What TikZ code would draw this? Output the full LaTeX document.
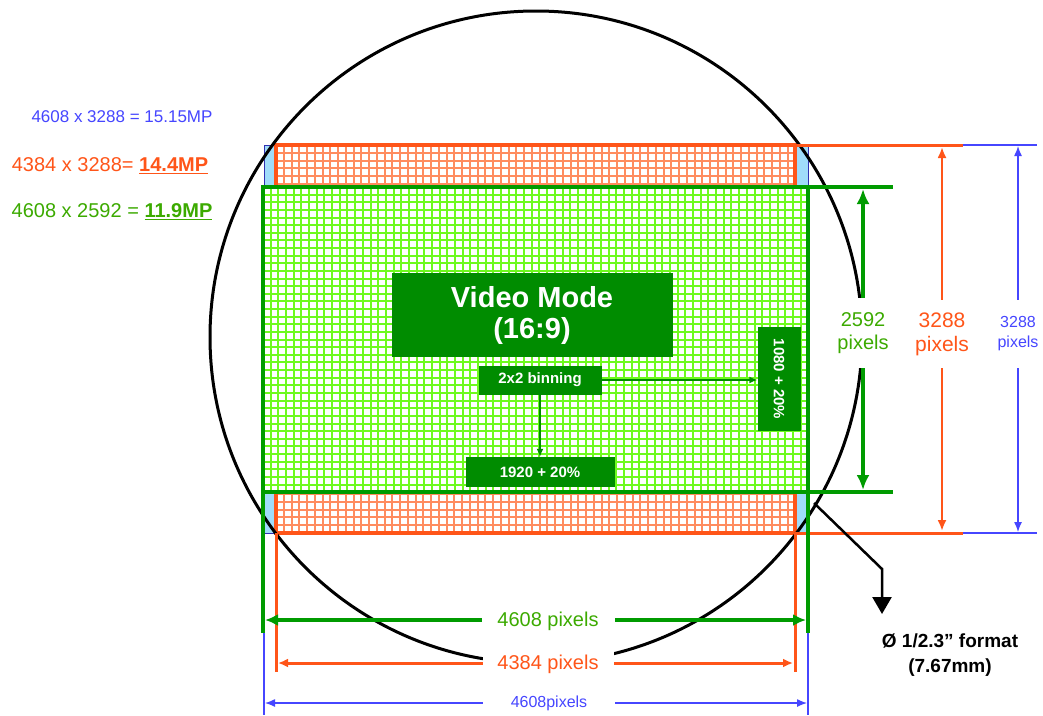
\documentclass[tikz,border=0pt]{standalone}
\usepackage{fontspec}
\setmainfont{Liberation Sans}
\usepackage{xcolor}
\usetikzlibrary{arrows.meta,positioning}

\definecolor{fullblue}{RGB}{70,70,255}
\definecolor{paleblue}{RGB}{160,220,250}
\definecolor{stillred}{RGB}{255,85,25}
\definecolor{stillgrid}{RGB}{255,140,95}
\definecolor{videogreen}{RGB}{0,155,0}
\definecolor{videotext}{RGB}{60,170,0}
\definecolor{videogrid}{RGB}{110,250,30}
\definecolor{boxgreen}{RGB}{0,140,0}

\tikzset{
  modebox/.style={fill=boxgreen,text=white,inner sep=0pt,align=center},
  dimlabel/.style={fill=white,align=center,inner sep=0pt},
  smallarrow/.style={draw=boxgreen,line width=1.5pt,-{Latex[length=8pt,width=7pt]}}
}

\begin{document}
\begin{tikzpicture}[x=1pt,y=-1pt]
\useasboundingbox[fill=white] (0,0) rectangle (1043,715);

% full sensor 4608 x 3288
\coordinate (fullNW) at (264,145);
\coordinate (fullSE) at (808,533);
\draw[fullblue!70!black,fill=paleblue,line width=1pt] (fullNW) rectangle (fullSE);

% still area 4384 x 3288
\coordinate (stillNW) at (276,145);
\coordinate (stillSE) at (795,533);
\fill[white] (stillNW) rectangle (stillSE);
\foreach \i in {1,...,66}
  \draw[stillgrid,line width=2pt] (276+\i*7.75,145) -- (276+\i*7.75,533);
\foreach \j in {1,...,49}
  \draw[stillgrid,line width=2pt] (276,145+\j*7.76) -- (795,145+\j*7.76);
\draw[stillred,line width=3.5pt] (stillNW) rectangle (stillSE);

% video area 4608 x 2592
\coordinate (videoNW) at (263,187);
\coordinate (videoSE) at (808,492);
\fill[white] (videoNW) rectangle (videoSE);
\foreach \i in {1,...,70}
  \draw[videogrid,line width=2pt] (263+\i*7.68,187) -- (263+\i*7.68,492);
\foreach \j in {1,...,39}
  \draw[videogrid,line width=2pt] (263,187+\j*7.63) -- (808,187+\j*7.63);
\draw[videogreen,line width=3.5pt] (videoNW) rectangle (videoSE);

% lens circle
\draw[line width=3pt] (536,337) circle (326pt);

% video mode boxes
\node[modebox,minimum width=281pt,minimum height=84pt,font=\fontsize{29}{31}\selectfont\bfseries] (vmode) at (532,315) {Video Mode\\(16:9)};
\node[modebox,minimum width=123pt,minimum height=29pt,font=\fontsize{15}{17}\selectfont\bfseries] (binning) at (540,380) {2x2 binning};
\node[modebox,minimum width=149pt,minimum height=30pt,font=\fontsize{15}{17}\selectfont\bfseries] (hres) at (540,472) {1920 + 20\%};
\node[modebox,minimum width=104pt,minimum height=43pt,rotate=-90,font=\fontsize{15}{17}\selectfont\bfseries] (vres) at (779,379) {1080 + 20\%};
\draw[smallarrow] (binning.south) -- (hres.north);
\draw[smallarrow] (binning.east) -- (binning.east -| vres.south);

% extension lines
\draw[fullblue,line width=1.3pt] (fullNW -| fullSE) -- ++(229,0);
\draw[fullblue,line width=1.3pt] (fullSE) -- ++(229,0);
\draw[fullblue,line width=1.3pt] (fullSE) -- ++(0,182);
\draw[fullblue,line width=1.3pt] (fullNW |- fullSE) -- ++(0,182);
\draw[stillred,line width=3pt] (stillNW -| stillSE) -- ++(168,0);
\draw[stillred,line width=3pt] (stillSE) -- ++(168,0);
\draw[stillred,line width=3pt] (stillSE) -- ++(0,139);
\draw[stillred,line width=3pt] (stillNW |- stillSE) -- ++(0,139);
\draw[videogreen,line width=3.5pt] (videoNW -| videoSE) -- ++(85,0);
\draw[videogreen,line width=3.5pt] (videoSE) -- ++(85,0);
\draw[videogreen,line width=3.5pt] (videoSE) -- ++(0,141);
\draw[videogreen,line width=3.5pt] (videoNW |- videoSE) -- ++(0,141);

% dimension arrows
\coordinate (gdimT) at (863,189);
\coordinate (gdimB) at (863,490);
\coordinate (rdimT) at (942,147);
\coordinate (rdimB) at (942,531);
\coordinate (bdimT) at (1018,146);
\coordinate (bdimB) at (1018,532);
\coordinate (gdimL) at (265,620);
\coordinate (gdimR) at (806,620);
\coordinate (rdimL) at (278,663);
\coordinate (rdimR) at (793,663);
\coordinate (bdimL) at (265,703);
\coordinate (bdimR) at (807,703);
\draw[videogreen,line width=3.5pt,{Latex[length=15pt,width=13pt]}-{Latex[length=15pt,width=13pt]}] (gdimT) -- (gdimB);
\draw[stillred,line width=2.8pt,{Latex[length=11pt,width=9pt]}-{Latex[length=11pt,width=9pt]}] (rdimT) -- (rdimB);
\draw[fullblue,line width=1.3pt,{Latex[length=10pt,width=8pt]}-{Latex[length=10pt,width=8pt]}] (bdimT) -- (bdimB);
\draw[videogreen,line width=4pt,{Latex[length=13pt,width=12pt]}-{Latex[length=13pt,width=12pt]}] (gdimL) -- (gdimR);
\draw[stillred,line width=3pt,{Latex[length=10pt,width=9pt]}-{Latex[length=10pt,width=9pt]}] (rdimL) -- (rdimR);
\draw[fullblue,line width=1.3pt,{Latex[length=10pt,width=8pt]}-{Latex[length=10pt,width=8pt]}] (bdimL) -- (bdimR);

% dimension labels
\node[dimlabel,minimum width=60pt,minimum height=70pt,text=videotext,font=\fontsize{20}{23}\selectfont] (glabel) at (863,333) {2592\\pixels};
\node[dimlabel,minimum width=60pt,minimum height=68pt,text=stillred,font=\fontsize{21}{24}\selectfont] (rlabel) at (942,334) {3288\\pixels};
\node[dimlabel,minimum width=50pt,minimum height=68pt,text=fullblue,font=\fontsize{16}{20}\selectfont] (blabel) at (1018,334) {3288\\pixels};
\node[dimlabel,minimum width=133pt,minimum height=24pt,text=videotext,font=\fontsize{20}{23}\selectfont] (gwidth) at (548,621) {4608 pixels};
\node[dimlabel,minimum width=131pt,minimum height=26pt,text=stillred,font=\fontsize{20}{23}\selectfont] (rwidth) at (548,664) {4384 pixels};
\node[dimlabel,minimum width=132pt,minimum height=16pt,text=fullblue,font=\fontsize{16}{18}\selectfont] (bwidth) at (549,703) {4608pixels};

% resolution labels
\node[text=fullblue,font=\fontsize{17}{20}\selectfont] (fullres) at (122,117) {4608 x 3288 = 15.15MP};
\node[text=stillred,font=\fontsize{20}{23}\selectfont] (stillres) at (110,166) {4384 x 3288= \underline{\textbf{14.4MP}}};
\node[text=videotext,font=\fontsize{20}{23}\selectfont] (videores) at (112,212) {4608 x 2592 = \underline{\textbf{11.9MP}}};

% optical format
\coordinate (fmtA) at (814,503);
\coordinate (fmtB) at (882,569);
\coordinate (fmtC) at (882,614);
\draw[line width=2.5pt,-{Triangle[length=17pt,width=19pt]}] (fmtA) -- (fmtB) -- (fmtC);
\node[align=center,font=\fontsize{19}{25}\selectfont\bfseries] (format) at (950,655) {Ø 1/2.3” format\\(7.67mm)};
\end{tikzpicture}
\end{document}
